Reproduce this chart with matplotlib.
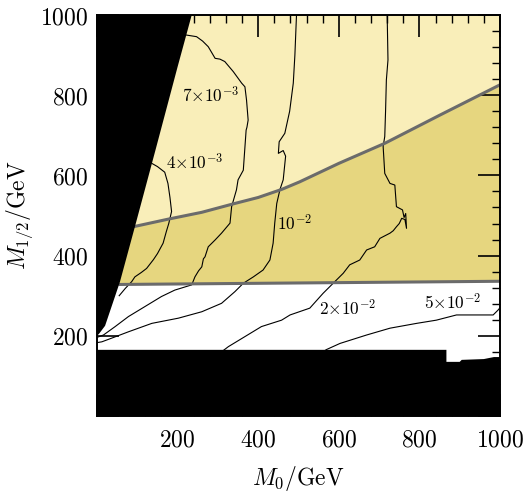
"""
Relic density style scan in the (M0, M1/2) plane.
"""

import matplotlib
matplotlib.use("Agg")
import matplotlib.pyplot as plt
import numpy as np
from matplotlib.ticker import MultipleLocator

plt.rcParams["mathtext.fontset"] = "cm"
plt.rcParams["font.family"] = "serif"

# ---- data (GeV) ----
boundary_curve_m0 = [90, 177, 260, 338, 400, 458, 503, 600, 714, 850, 1000]
boundary_curve_m12 = [472, 491, 508, 529, 545, 565, 584, 630, 680, 750, 826]

flat_line_m0 = [53, 1000]
flat_line_m12 = [328, 336]

black_left_m0 = [0, 235, 200, 145, 94, 57, 20, 5, 0]
black_left_m12 = [1000, 1000, 871, 663, 472, 335, 225, 205, 200]

black_bottom_m0 = [0, 0, 867, 867, 900, 905, 960, 985, 1000, 1000]
black_bottom_m12 = [0, 165, 165, 135, 135, 140, 142, 147, 147, 0]

c4e3_m0 = [136, 150, 168, 176, 181, 185, 178, 172, 164, 150, 140, 123, 110,
           94, 86, 70, 55]
c4e3_m12 = [630, 622, 608, 580, 545, 510, 480, 460, 431, 405, 390, 368, 358,
            347, 335, 318, 300]

c7e3_m0 = [222, 247, 262, 276, 293, 305, 317, 338, 359, 367, 371, 375, 372,
           370, 363, 350, 346, 334, 330, 309, 293, 276, 268, 264, 260, 252,
           243, 235, 193, 160, 119, 78, 45, 16, 0]
c7e3_m12 = [950, 946, 935, 921, 892, 890, 884, 859, 830, 821, 788, 738, 720,
            713, 613, 589, 564, 522, 481, 456, 439, 422, 397, 392, 372, 362,
            347, 327, 314, 298, 273, 248, 223, 202, 196]

c1e2_m0 = [495, 491, 487, 478, 466, 452, 450, 462, 468, 462, 454, 446, 441,
           437, 429, 412, 388, 363, 342, 309, 260, 202, 136, 78, 36, 12, 0]
c1e2_m12 = [1000, 900, 830, 760, 705, 684, 655, 662, 648, 589, 565, 530, 481,
            431, 389, 364, 347, 331, 310, 281, 260, 244, 231, 210, 194, 185,
            183]

c2e2_m0 = [720, 722, 718, 716, 714, 710, 714, 727, 739, 743, 758, 762, 766,
           768, 764, 756, 750, 743, 735, 727, 702, 689, 669, 652, 627, 611,
           598, 590, 561, 528, 479, 458, 408, 367, 326, 309]
c2e2_m12 = [1000, 888, 838, 760, 697, 672, 605, 580, 576, 522, 514, 495, 505,
            468, 490, 493, 480, 472, 462, 456, 443, 422, 414, 389, 377, 356,
            343, 335, 306, 269, 252, 239, 223, 198, 173, 160]

c5e2_m0 = [1000, 995, 983, 941, 892, 842, 793, 727, 669, 603, 570, 560]
c5e2_m12 = [270, 264, 252, 252, 252, 239, 231, 219, 202, 181, 166, 160]

contours = [
    (c4e3_m0, c4e3_m12, r"$4{\times}10^{-3}$", 243, 631),
    (c7e3_m0, c7e3_m12, r"$7{\times}10^{-3}$", 282, 798),
    (c1e2_m0, c1e2_m12, r"$10^{-2}$", 490, 479),
    (c2e2_m0, c2e2_m12, r"$2{\times}10^{-2}$", 623, 267),
    (c5e2_m0, c5e2_m12, r"$5{\times}10^{-2}$", 883, 282),
]

light_yellow = "#f9eeb9"
dark_yellow = "#e6d67f"
line_gray = "#6b6b6b"

fig = plt.figure(figsize=(5.29, 4.94), dpi=100)
ax = fig.add_axes([0.1834, 0.1579, 0.7618, 0.8117])
ax.set_xlim(0, 1000)
ax.set_ylim(0, 1000)

# filled regions
upper_x = boundary_curve_m0 + [1000, 0]
upper_y = boundary_curve_m12 + [1000, 1000]
ax.fill(upper_x, upper_y, color=light_yellow, lw=0, zorder=1)

band_x = boundary_curve_m0 + flat_line_m0[::-1]
band_y = boundary_curve_m12 + flat_line_m12[::-1]
ax.fill(band_x, band_y, color=dark_yellow, lw=0, zorder=1)

# contour lines
for xs, ys, label, lx, ly in contours:
    ax.plot(xs, ys, color="black", lw=0.8, zorder=2)
    ax.text(lx, ly, label, fontsize=12.5, ha="center", va="center", zorder=5)

# boundaries
ax.plot(boundary_curve_m0, boundary_curve_m12, color=line_gray, lw=2.2,
        zorder=3, solid_capstyle="butt")
ax.plot(flat_line_m0, flat_line_m12, color=line_gray, lw=2.2, zorder=3,
        solid_capstyle="butt")

# excluded regions
ax.fill(black_left_m0, black_left_m12, color="black", lw=0, zorder=4)
ax.fill(black_bottom_m0, black_bottom_m12, color="black", lw=0, zorder=4)

ticks = [0, 200, 400, 600, 800, 1000]
labels = ["" if t == 0 else f"${t}$" for t in ticks]
ax.set_xticks(ticks)
ax.set_xticklabels(labels)
ax.set_yticks(ticks)
ax.set_yticklabels(labels)
ax.xaxis.set_minor_locator(MultipleLocator(40))
ax.yaxis.set_minor_locator(MultipleLocator(40))
ax.tick_params(which="both", direction="in", top=True, right=True,
               labelsize=17, color="black")
ax.tick_params(axis="x", which="major", length=16, width=1.2, pad=9)
ax.tick_params(axis="y", which="major", length=16, width=1.2, pad=6)
ax.tick_params(which="minor", length=6, width=1.0)

for sp in ax.spines.values():
    sp.set_linewidth(1.4)
    sp.set_zorder(6)

ax.set_xlabel(r"$M_0/\mathrm{GeV}$", fontsize=17)
ax.set_ylabel(r"$M_{1/2}/\mathrm{GeV}$", fontsize=17)
ax.xaxis.set_label_coords(0.5, -0.12)
ax.yaxis.set_label_coords(-0.155, 0.5)

fig.savefig("out.png", dpi=100)
